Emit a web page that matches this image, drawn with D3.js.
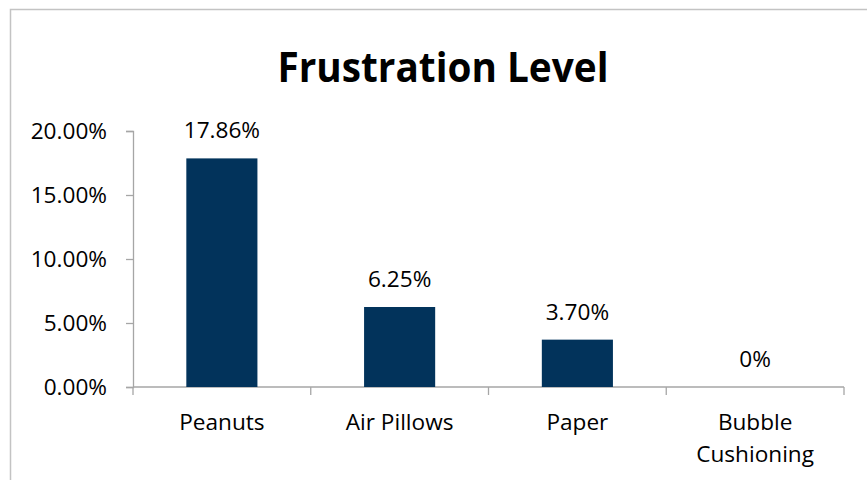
<!DOCTYPE html>
<html>
<head>
<meta charset="utf-8">
<script src="https://cdn.jsdelivr.net/npm/d3@7"></script>
<style>
  body { margin: 0; background: #fff; }
  text { font-family: 'Open Sans', sans-serif; fill: #000; }
</style>
</head>
<body>
<div id="chart"></div>
<script>
const categories = ['Peanuts', 'Air Pillows', 'Paper', 'Bubble\nCushioning']
const values = [17.86, 6.25, 3.70, 0]
const valueLabels = ['17.86%', '6.25%', '3.70%', '0%']
const yTicks = [0, 5, 10, 15, 20]

const W = 867, H = 480
const margin = {top: 131, right: 23, bottom: 93, left: 133}
const width = W - margin.left - margin.right
const height = H - margin.top - margin.bottom
const fs = 22.6

const svg = d3.select('#chart').append('svg')
  .attr('width', W).attr('height', H)

// chart area border
svg.append('rect')
  .attr('x', 10.5).attr('y', 9.5)
  .attr('width', W + 20).attr('height', H + 20)
  .attr('fill', 'none').attr('stroke', '#c3c3c3').attr('stroke-width', 1.5)

svg.append('text')
  .attr('x', 443).attr('y', 82)
  .attr('text-anchor', 'middle')
  .attr('font-size', 41).attr('font-weight', 700)
  .attr('textLength', 331).attr('lengthAdjust', 'spacingAndGlyphs')
  .text('Frustration Level')

const g = svg.append('g').attr('transform', `translate(${margin.left},${margin.top})`)

const x = d3.scaleBand().domain(categories).range([0, width]).paddingInner(0.6).paddingOuter(0.3)
const y = d3.scaleLinear().domain([0, 20]).range([height, 0])

const yAxis = g.append('g')
  .call(d3.axisLeft(y).tickValues(yTicks).tickSize(7).tickPadding(19).tickFormat(d => d.toFixed(2) + '%'))
yAxis.selectAll('text').attr('font-size', fs).attr('font-family', "'Open Sans', sans-serif").attr('fill', '#000')
yAxis.selectAll('line, path').attr('stroke', '#a6a6a6').attr('stroke-width', 1.3)

// x axis with boundary ticks between categories
const step = width / categories.length
const xAxis = g.append('g').attr('transform', `translate(0,${height})`)
xAxis.append('line').attr('x1', 0).attr('x2', width).attr('stroke', '#a6a6a6').attr('stroke-width', 1.3)
xAxis.selectAll('.tick').data(d3.range(categories.length + 1)).join('line')
  .attr('x1', i => i * step).attr('x2', i => i * step)
  .attr('y1', 0).attr('y2', 8)
  .attr('stroke', '#a6a6a6').attr('stroke-width', 1.3)

g.selectAll('.bar').data(values).join('rect')
  .attr('x', (d, i) => x(categories[i]))
  .attr('width', x.bandwidth())
  .attr('y', d => y(d))
  .attr('height', d => height - y(d))
  .attr('fill', '#02335b')

g.selectAll('.val').data(values).join('text')
  .attr('x', (d, i) => x(categories[i]) + x.bandwidth() / 2)
  .attr('y', d => y(d) - 20)
  .attr('text-anchor', 'middle')
  .attr('font-size', fs)
  .text((d, i) => valueLabels[i])

const cat = g.selectAll('.cat').data(categories).join('text')
  .attr('x', d => x(d) + x.bandwidth() / 2)
  .attr('y', height + 43)
  .attr('text-anchor', 'middle')
  .attr('font-size', fs)
cat.selectAll('tspan').data(d => d.split('\n')).join('tspan')
  .attr('x', function () { return this.parentNode.getAttribute('x') })
  .attr('dy', (d, i) => i ? 32 : 0)
  .text(d => d)
</script>
</body>
</html>
